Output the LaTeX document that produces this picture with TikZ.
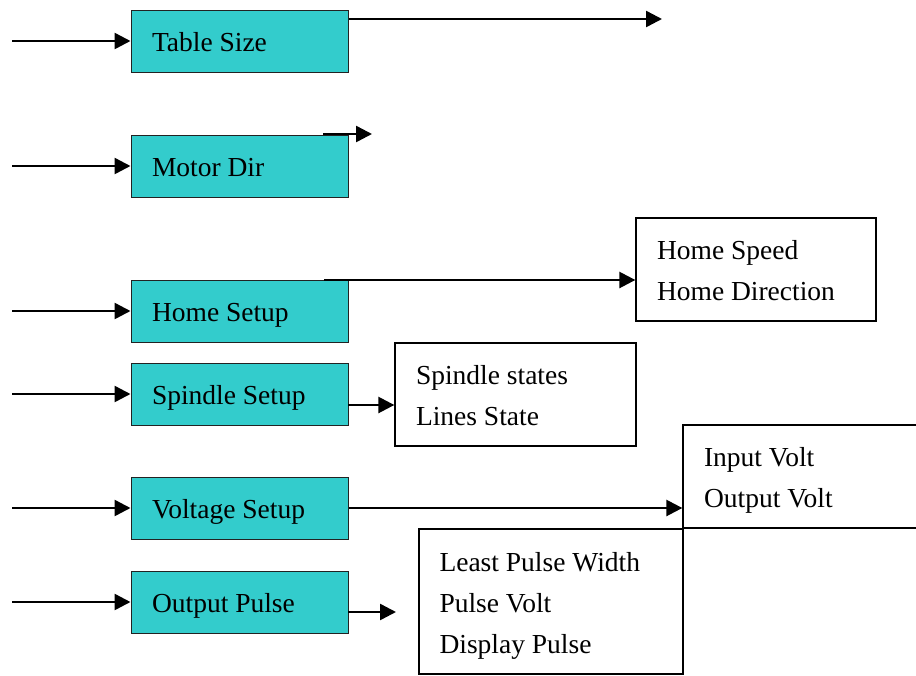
\documentclass[tikz,border=0pt]{standalone}
\usepackage{fontspec}
\setmainfont{Liberation Serif}
\usetikzlibrary{arrows.meta}
\definecolor{tealbox}{HTML}{33CCCC}
\definecolor{boxline}{HTML}{222222}
\tikzset{
  module/.style={draw=boxline, line width=1pt, fill=tealbox, minimum width=217pt, minimum height=62pt,
    text width=175pt, inner xsep=21pt, inner ysep=0pt, align=left, text height=21pt, text depth=0pt,
    font=\fontsize{27.5}{41}\selectfont, execute at begin node={\spaceskip=0pt\xspaceskip=0pt\relax}},
  infobox/.style={draw=black, line width=1.3pt, fill=white, inner ysep=0pt, align=left,
    text height=21pt, font=\fontsize{27.5}{41}\selectfont,
    execute at begin node={\spaceskip=0pt\xspaceskip=0pt\relax}},
  flow/.style={line width=2.5pt, -{Triangle[length=16pt,width=16pt]}}
}
\begin{document}
\begin{tikzpicture}[x=1pt,y=-1pt]
\useasboundingbox (0,0) rectangle (916,675);
\clip (0,0) rectangle (916,675);
% modules
\node[module] (ts) at (239.5,41)  {Table Size};
\node[module] (md) at (239.5,166) {Motor Dir};
\node[module] (hs) at (239.5,311) {Home Setup};
\node[module] (ss) at (239.5,394) {Spindle Setup};
\node[module] (vs) at (239.5,508) {Voltage Setup};
\node[module] (op) at (239.5,602) {Output Pulse};
% info boxes
\node[infobox, minimum width=240pt, minimum height=103pt, text width=198pt, inner xsep=21pt, text depth=41pt]
  (hb) at (756,269.5) {Home Speed\\Home Direction};
\node[infobox, minimum width=241pt, minimum height=103pt, text width=199pt, inner xsep=21pt, text depth=41pt]
  (sb) at (515.5,394.5) {Spindle states\\Lines State};
\node[infobox, minimum width=257pt, minimum height=103pt, text width=215pt, inner xsep=21pt, text depth=41pt]
  (ib) at (811.5,476.5) {Input Volt\\Output Volt};
\node[infobox, minimum width=264pt, minimum height=145pt, text width=223pt, inner xsep=20.5pt, text depth=82pt]
  (lb) at (551,601.5) {Least Pulse Width\\Pulse Volt\\Display Pulse};
% input arrows
\foreach \n in {ts,md,hs,ss,vs,op}{
  \coordinate (\n in) at (12,0 |- \n.west);
  \draw[flow] (\n in) -- (\n.west);
}
% outputs
\coordinate (tsO) at (349,19);
\coordinate (tsE) at (662,19);
\draw[flow] (tsO) -- (tsE);
\coordinate (mdO) at (323,134);
\coordinate (mdE) at (372,134);
\draw[flow] (mdO) -- (mdE);
\coordinate (hsO) at (324,280);
\draw[flow] (hsO) -- (hsO -| hb.west);
\coordinate (ssO) at (348,405);
\draw[flow] (ssO) -- (ssO -| sb.west);
\draw[flow] (vs.east) -- (vs.east -| ib.west);
\coordinate (opO) at (348,612);
\coordinate (opE) at (396,612);
\draw[flow] (opO) -- (opE);
\end{tikzpicture}
\end{document}
